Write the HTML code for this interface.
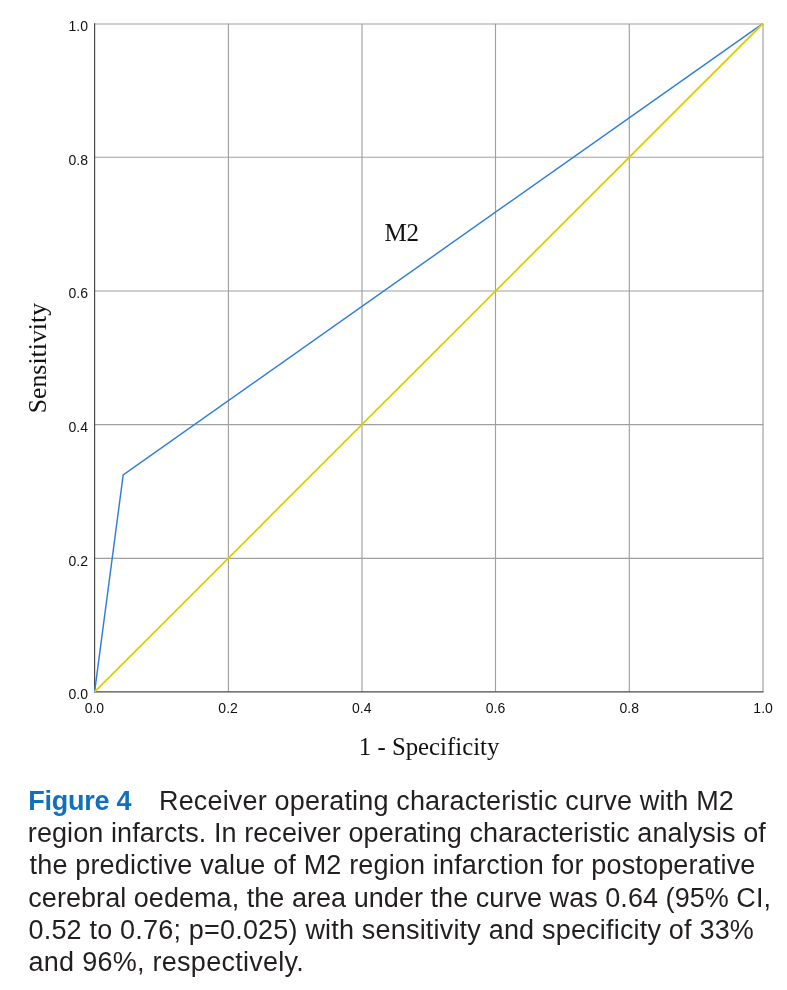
<!DOCTYPE html>
<html>
<head>
<meta charset="utf-8">
<style>
html, body { margin: 0; padding: 0; background: #ffffff; }
body { width: 787px; height: 990px; overflow: hidden; position: relative; }
svg.chart { position: absolute; left: 0; top: 0; will-change: transform; }
.cap {
  position: absolute; left: 30px; top: 785.2px; width: 770px;
  font-family: "Liberation Sans", Helvetica, Arial, sans-serif;
  font-size: 27px; line-height: 32.2px; color: #231f20;
  white-space: nowrap; will-change: transform;
}
.cap div { height: 32.2px; }
.cap .l1 { position: relative; }
.cap b { color: #1170be; font-weight: bold; margin-left: -1.8px; letter-spacing: -0.24px; }
.cap .r1 { position: absolute; left: 129px; top: 0; letter-spacing: 0.165px; }
</style>
</head>
<body>
<svg class="chart" width="787" height="775" viewBox="0 0 787 775">
  <g stroke="#a0a0a0" stroke-width="1.15" fill="none">
    <line x1="228.4" y1="23.8" x2="228.4" y2="691.8"/>
    <line x1="362.0" y1="23.8" x2="362.0" y2="691.8"/>
    <line x1="495.5" y1="23.8" x2="495.5" y2="691.8"/>
    <line x1="629.3" y1="23.8" x2="629.3" y2="691.8"/>
    <line x1="763.0" y1="23.8" x2="763.0" y2="691.8"/>
    <line x1="94.6" y1="558.4" x2="763.3" y2="558.4"/>
    <line x1="94.6" y1="424.6" x2="763.3" y2="424.6"/>
    <line x1="94.6" y1="291.0" x2="763.3" y2="291.0"/>
    <line x1="94.6" y1="157.2" x2="763.3" y2="157.2"/>
    <line x1="94.6" y1="24.0" x2="763.3" y2="24.0"/>
  </g>
  <g stroke="#4a4a4a" stroke-width="1.2" fill="none">
    <line x1="94.6" y1="23.3" x2="94.6" y2="692.3"/>
    <line x1="94.1" y1="691.8" x2="763.5" y2="691.8"/>
  </g>
  <polyline points="94.6,691.8 123.2,474.8 762.8,23.6" stroke="#2f7de0" stroke-width="1.45" fill="none" stroke-linejoin="miter"/>
  <polyline points="94.6,691.8 763.0,23.5" stroke="#dccf00" stroke-width="1.8" fill="none"/>
  <g font-family="Liberation Sans, Arial, sans-serif" font-size="14" fill="#111">
    <g text-anchor="end">
      <text x="88" y="31.2">1.0</text>
      <text x="88" y="164.8">0.8</text>
      <text x="88" y="298.4">0.6</text>
      <text x="88" y="432">0.4</text>
      <text x="88" y="565.6">0.2</text>
      <text x="88" y="699.2">0.0</text>
    </g>
    <g text-anchor="middle">
      <text x="94.4" y="712.8">0.0</text>
      <text x="228.1" y="712.8">0.2</text>
      <text x="361.8" y="712.8">0.4</text>
      <text x="495.5" y="712.8">0.6</text>
      <text x="629.2" y="712.8">0.8</text>
      <text x="763.1" y="712.8">1.0</text>
    </g>
  </g>
  <g font-family="Liberation Serif, Times New Roman, serif" font-size="24.5" fill="#111">
    <text x="429.1" y="754.5" text-anchor="middle" font-size="24.8">1 - Specificity</text>
    <text transform="translate(46.1,358.15) rotate(-90)" text-anchor="middle" font-size="25.8">Sensitivity</text>
    <text x="384.4" y="241" font-size="25">M2</text>
  </g>
</svg>
<div class="cap">
<div class="l1"><b>Figure 4</b><span class="r1">Receiver operating characteristic curve with M2</span></div>
<div style="margin-left:-2.2px;letter-spacing:0.088px">region infarcts. In receiver operating characteristic analysis of</div>
<div style="margin-left:-0.4px;letter-spacing:0.162px">the predictive value of M2 region infarction for postoperative</div>
<div style="margin-left:-1.7px;letter-spacing:0.047px">cerebral oedema, the area under the curve was 0.64 (95% CI,</div>
<div style="margin-left:-1.5px;letter-spacing:0.192px">0.52 to 0.76; p=0.025) with sensitivity and specificity of 33%</div>
<div style="margin-left:-1.5px;letter-spacing:0.27px">and 96%, respectively.</div>
</div>
</body>
</html>
